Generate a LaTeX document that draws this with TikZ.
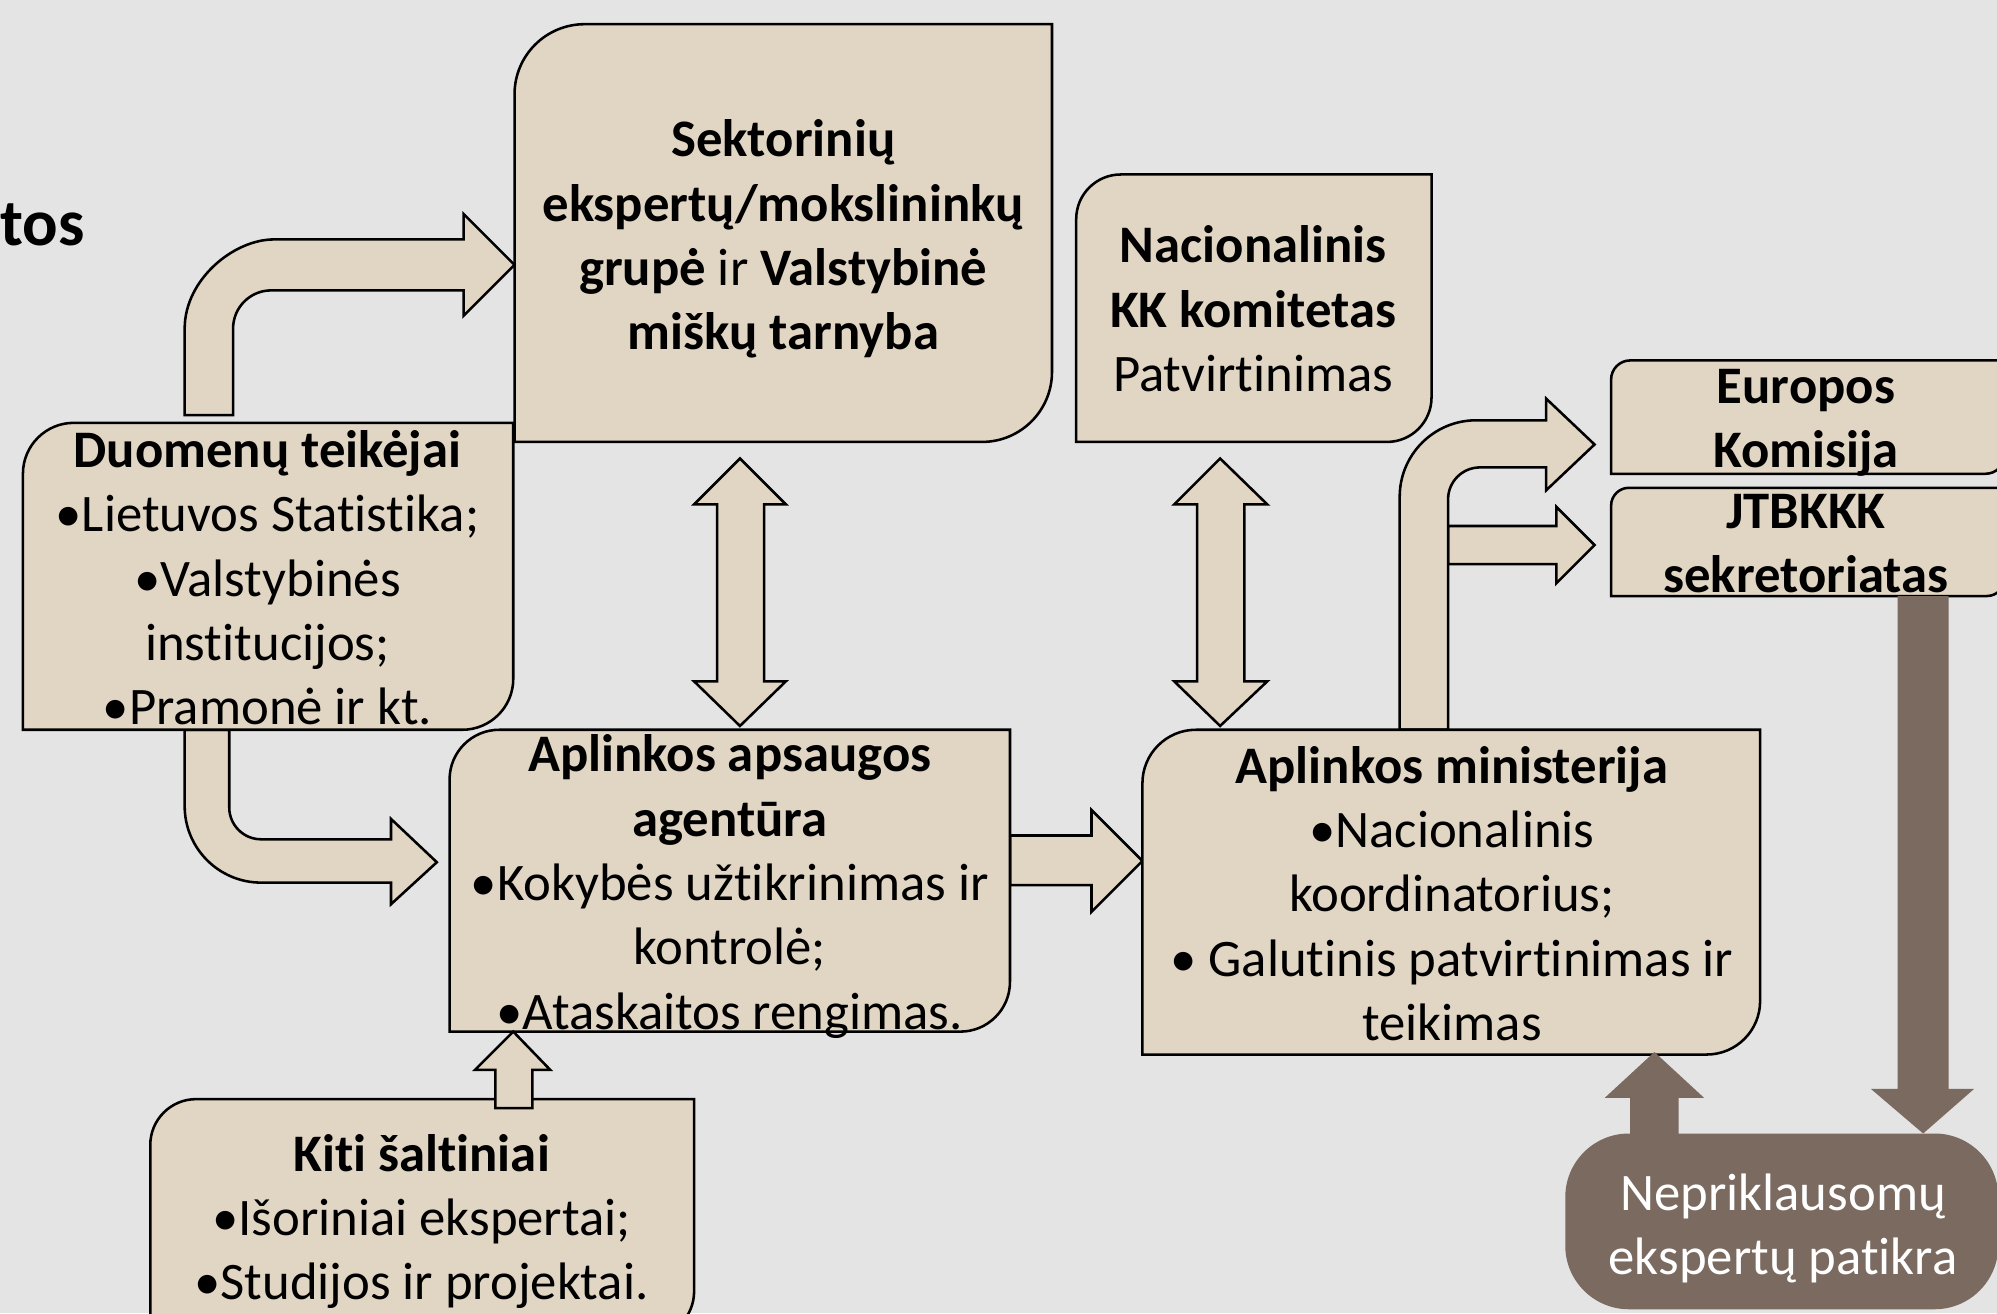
\documentclass[tikz,border=0pt]{standalone}
\usepackage{fontspec}
\setmainfont{Carlito}[Ligatures=NoCommon]
\definecolor{bgc}{RGB}{228,228,228}
\definecolor{boxfill}{RGB}{225,213,196}
\definecolor{brownc}{RGB}{122,106,96}
\newcommand\bodyfs{\fontsize{20.7}{25.25}\selectfont}
% round-diagonal-corner box: x1 y1 x2 y2 r  (y grows downward)
\newcommand\diagbox[5]{%
  \draw[boxline] (#1,#4) -- (#1,#2+#5) .. controls (#1,#2+0.4477*#5) and (#1+0.4477*#5,#2) .. (#1+#5,#2)
    -- (#3,#2) -- (#3,#4-#5) .. controls (#3,#4-0.4477*#5) and (#3-0.4477*#5,#4) .. (#3-#5,#4) -- cycle;}
\tikzset{
  boxline/.style={fill=boxfill, draw=black, line width=1pt, line join=miter},
  blockarrow/.style={fill=boxfill, draw=black, line width=1pt, line join=miter},
  brownarrow/.style={fill=brownc, draw=none},
  lbl/.style={align=center, inner sep=0pt, font=\bodyfs, text=black,
    execute at begin node=\strut, execute at end node=\strut},
}
\begin{document}
\begin{tikzpicture}[x=0.5pt,y=-0.5pt]
\useasboundingbox (0,0) rectangle (1568,1031);
\fill[bgc] (0,0) rectangle (1568,1031);

% title fragment
\node[anchor=base west, inner sep=0pt, font=\fontsize{26}{30}\selectfont\bfseries] (tos) at (0,193) {tos};

% ---- block arrows (under boxes) ----
% Duomenu -> Sektoriniu (bent)
\path[blockarrow] (145,326) -- (145,258) .. controls (145,219.3) and (183.7,188) .. (215,188)
  -- (364,188) -- (364,168) -- (404,208) -- (364,248) -- (364,228) -- (213,228)
  .. controls (196.4,228) and (183,241.4) .. (183,258) -- (183,326) -- cycle;
% Duomenu -> Agentura (bent)
\path[blockarrow] (145,573) -- (145,633) .. controls (145,666.1) and (171.9,693) .. (205,693)
  -- (307,693) -- (307,710) -- (343,677) -- (307,643) -- (307,659) -- (205,659)
  .. controls (191.2,659) and (180,647.8) .. (180,634) -- (180,573) -- cycle;
% Sektoriniu <-> Agentura
\path[blockarrow] (581,360) -- (617,396) -- (600,396) -- (600,535) -- (617,535) -- (581,570)
  -- (545,535) -- (563,535) -- (563,396) -- (545,396) -- cycle;
% Nacionalinis <-> Ministerija
\path[blockarrow] (958,360) -- (995,396) -- (977,396) -- (977,535) -- (995,535) -- (958,570)
  -- (922,535) -- (940,535) -- (940,396) -- (922,396) -- cycle;
% Agentura -> Ministerija
\path[blockarrow] (793,656) -- (857,656) -- (857,636) -- (897,676) -- (857,716) -- (857,695) -- (793,695) -- cycle;
% Ministerija -> JTBKKK (branch)
\path[blockarrow] (1137,413) -- (1222,413) -- (1222,398) -- (1252,428) -- (1222,458) -- (1222,443) -- (1137,443) -- cycle;
% Ministerija -> Europos Komisija (bent)
\path[blockarrow] (1099,573) -- (1099,390) .. controls (1099,356.9) and (1125.9,330) .. (1159,330)
  -- (1214,330) -- (1214,313) -- (1252,349) -- (1214,385) -- (1214,367) -- (1162,367)
  .. controls (1148.2,367) and (1137,378.2) .. (1137,392) -- (1137,573) -- cycle;

% ---- boxes ----
\diagbox{404}{19}{826}{347}{55}
\diagbox{845}{137}{1124}{347}{35}
\diagbox{1265}{283}{1574}{372}{15}
\diagbox{1265}{383}{1574}{468}{14}
\diagbox{18}{332}{403}{573}{40}
\diagbox{353}{573}{793}{810}{39}
\diagbox{897}{573}{1382}{828}{42}
\diagbox{118}{863}{545}{1050}{36}
\fill[brownc, rounded corners=25pt] (1229,890) rectangle (1569,1028);

% brown arrows
\path[brownarrow] (1490,468) -- (1530,468) -- (1530,855) -- (1550,855) -- (1510,890) -- (1469,855) -- (1490,855) -- cycle;
\path[brownarrow] (1280,891) -- (1280,862) -- (1260,862) -- (1299,826) -- (1338,862) -- (1318,862) -- (1318,891) -- cycle;
% Kiti -> Agentura
\path[blockarrow] (389,870) -- (389,840) -- (373,840) -- (403,810) -- (432,840) -- (418,840) -- (418,870) -- cycle;

% ---- texts ----
\node[lbl] (sek) at (615,192) {\textbf{Sektorinių}\\\textbf{ekspertų/mokslininkų}\\\textbf{grupė} ir \textbf{Valstybinė}\\\textbf{miškų tarnyba}};
\node[lbl] (nac) at (984,250) {\textbf{Nacionalinis}\\\textbf{KK komitetas}\\Patvirtinimas};
\node[lbl] (ek) at (1418,336) {\textbf{Europos}\\\textbf{Komisija}};
\node[lbl] (jt) at (1418,434) {\textbf{JTBKKK}\\\textbf{sekretoriatas}};
\node[lbl] (duo) at (210,461) {\textbf{Duomenų teikėjai}\\•Lietuvos Statistika;\\•Valstybinės\\institucijos;\\•Pramonė ir kt.};
\node[lbl] (aaa) at (573,700) {\textbf{Aplinkos apsaugos}\\\textbf{agentūra}\\•Kokybės užtikrinimas ir\\kontrolė;\\•Ataskaitos rengimas.};
\node[lbl] (am) at (1140,709) {\textbf{Aplinkos ministerija}\\•Nacionalinis\\koordinatorius;\\• Galutinis patvirtinimas ir\\teikimas};
\node[lbl] (kiti) at (331,963) {\textbf{Kiti šaltiniai}\\•Išoriniai ekspertai;\\•Studijos ir projektai.};
\node[lbl, text=white] (nep) at (1400,969) {Nepriklausomų\\ekspertų patikra};
\end{tikzpicture}
\end{document}
